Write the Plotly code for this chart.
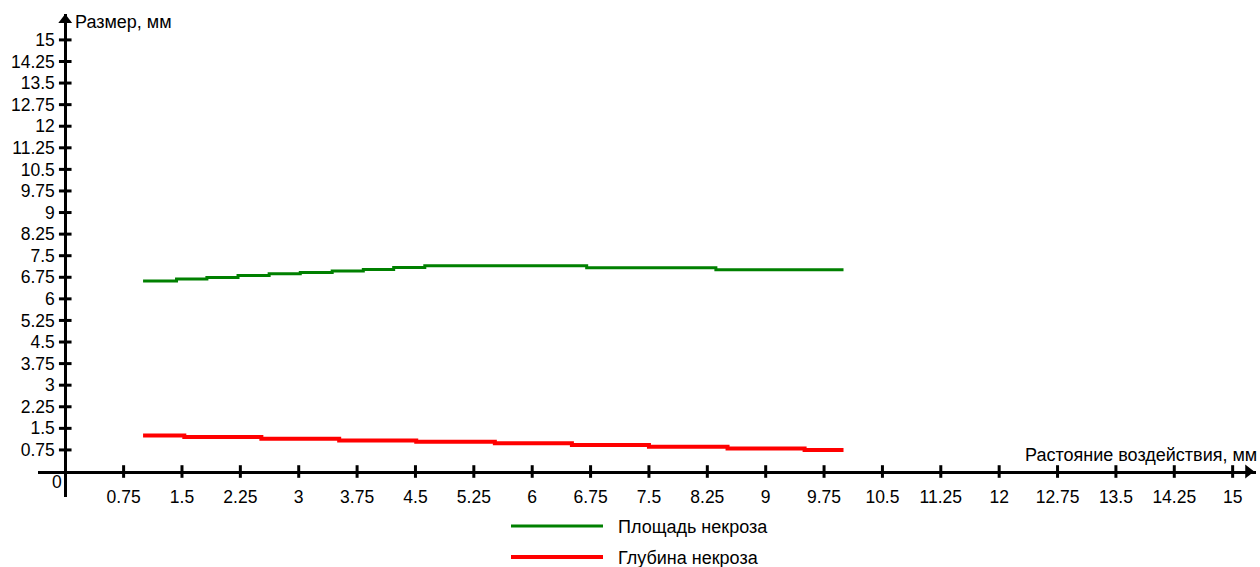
import plotly.graph_objects as go

# ---- data ----
x_ticks = [0.75, 1.5, 2.25, 3, 3.75, 4.5, 5.25, 6, 6.75, 7.5, 8.25, 9, 9.75,
           10.5, 11.25, 12, 12.75, 13.5, 14.25, 15]
x_tick_labels = ["0.75", "1.5", "2.25", "3", "3.75", "4.5", "5.25", "6", "6.75",
                 "7.5", "8.25", "9", "9.75", "10.5", "11.25", "12", "12.75",
                 "13.5", "14.25", "15"]
y_ticks = x_ticks
y_tick_labels = x_tick_labels

area_x = [1.0, 1.43, 1.82, 2.22, 2.62, 3.02, 3.43, 3.83, 4.22, 4.62, 6.7, 8.36, 10.0]
area_y = [6.62, 6.69, 6.74, 6.81, 6.87, 6.92, 6.97, 7.02, 7.09, 7.15, 7.08, 7.01, 7.01]
depth_x = [1.0, 1.53, 2.52, 3.52, 4.51, 5.52, 6.51, 7.5, 8.51, 9.5, 10.0]
depth_y = [1.25, 1.2, 1.14, 1.08, 1.03, 0.98, 0.92, 0.86, 0.8, 0.75, 0.75]

series_names = ["Площадь некроза", "Глубина некроза"]
series_colors = ["#008000", "#ff0000"]
x_title = "Растояние воздействия, мм"
y_title = "Размер, мм"

# ---- layout geometry ----
W, H = 1260, 567
XR = [-0.35, 15.3]
YR = [-0.886, 15.9]
ML, MR, MT, MB = 38, 4, 14, 70
PW, PH = W - ML - MR, H - MT - MB
FONT = "Liberation Sans, Arial, sans-serif"
FS = 18
TFS = 17.5


def px(xp, yp):
    return (xp - ML) / PW, (H - MB - yp) / PH


xpos0 = (0 - XR[0]) / (XR[1] - XR[0])
ypos0 = (0 - YR[0]) / (YR[1] - YR[0])

fig = go.Figure()

fig.add_trace(go.Scatter(x=area_x, y=area_y, mode="lines", line_shape="hv",
                         line=dict(color=series_colors[0], width=3),
                         name=series_names[0], showlegend=False))
fig.add_trace(go.Scatter(x=depth_x, y=depth_y, mode="lines", line_shape="hv",
                         line=dict(color=series_colors[1], width=4),
                         name=series_names[1], showlegend=False))

# crossing tick marks
fig.add_trace(go.Scatter(x=x_ticks, y=[0] * len(x_ticks), mode="markers",
                         marker=dict(symbol="line-ns", size=9,
                                     line=dict(color="black", width=3)),
                         hoverinfo="skip", showlegend=False))
fig.add_trace(go.Scatter(x=[0] * len(y_ticks), y=y_ticks, mode="markers",
                         marker=dict(symbol="line-ew", size=9,
                                     line=dict(color="black", width=3)),
                         hoverinfo="skip", showlegend=False))
# arrow heads
fig.add_trace(go.Scatter(x=[0], y=[15.69], mode="markers",
                         marker=dict(symbol="triangle-up", size=12, color="black"),
                         hoverinfo="skip", showlegend=False))
fig.add_trace(go.Scatter(x=[15.2], y=[0], mode="markers",
                         marker=dict(symbol="triangle-right", size=12, color="black"),
                         hoverinfo="skip", showlegend=False))

fig.update_xaxes(range=XR, showgrid=False, zeroline=False, showline=True,
                 linecolor="black", linewidth=3, anchor="free", position=ypos0,
                 tickmode="array", tickvals=x_ticks, ticktext=x_tick_labels,
                 ticks="", ticklabelstandoff=8,
                 tickfont=dict(family=FONT, size=TFS, color="black"))
fig.update_yaxes(range=YR, showgrid=False, zeroline=False, showline=True,
                 linecolor="black", linewidth=3, anchor="free", position=xpos0,
                 tickmode="array", tickvals=y_ticks, ticktext=y_tick_labels,
                 ticks="", ticklabelstandoff=6,
                 tickfont=dict(family=FONT, size=TFS, color="black"))

annotations = []
ax, ay = px(73, 22)
annotations.append(dict(x=ax, y=ay, xref="paper", yref="paper", text=y_title,
                        showarrow=False, xanchor="left", yanchor="middle"))
ax, ay = px(1259, 455)
annotations.append(dict(x=ax, y=ay, xref="paper", yref="paper", text=x_title,
                        showarrow=False, xanchor="right", yanchor="middle"))
ax, ay = px(57, 482)
annotations.append(dict(x=ax, y=ay, xref="paper", yref="paper", text="0",
                        showarrow=False, xanchor="center", yanchor="middle",
                        font=dict(size=TFS)))

shapes = []
legend_rows = [526, 557]
for name, color, yrow, w in zip(series_names, series_colors, legend_rows, [3, 4]):
    x0, y0 = px(511, yrow)
    x1, _ = px(603, yrow)
    shapes.append(dict(type="line", xref="paper", yref="paper", x0=x0, x1=x1,
                       y0=y0, y1=y0, line=dict(color=color, width=w)))
    tx, ty = px(616, yrow + 1)
    annotations.append(dict(x=tx, y=ty, xref="paper", yref="paper", text=name,
                            showarrow=False, xanchor="left", yanchor="middle"))

fig.update_layout(width=W, height=H,
                  margin=dict(l=ML, r=MR, t=MT, b=MB),
                  paper_bgcolor="white", plot_bgcolor="white",
                  font=dict(family=FONT, size=FS, color="black"),
                  annotations=annotations, shapes=shapes, showlegend=False)

fig.write_html("out.html", config={"displayModeBar": False},
               post_script="document.body.style.margin='0';document.body.style.overflow='hidden';")
